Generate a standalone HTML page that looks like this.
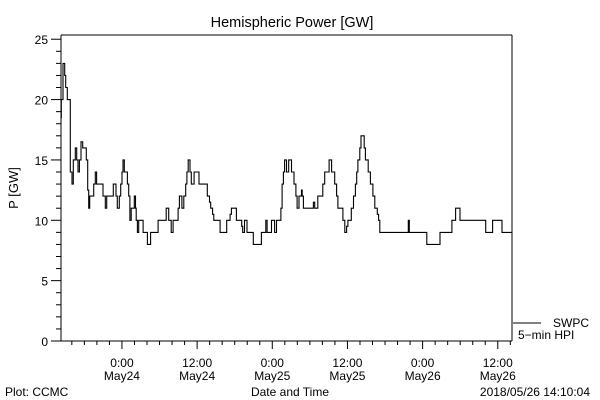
<!DOCTYPE html>
<html><head><meta charset="utf-8"><style>
body{margin:0;background:#fff}
svg{display:block;font-family:"Liberation Sans",sans-serif}
</style></head><body>
<svg id="chart" width="600" height="400" viewBox="0 0 600 400">
<rect width="600" height="400" fill="#fff"/>
<text x="292" y="27" font-size="14.5" text-anchor="middle">Hemispheric Power [GW]</text>
<text transform="translate(18,188) rotate(-90)" font-size="13" text-anchor="middle">P [GW]</text>
<g id="axes"></g>
<path id="series" fill="none" stroke="#000" stroke-width="1.1"/>
<line x1="513" y1="323" x2="541" y2="323" stroke="#000"/>
<text x="553" y="327" font-size="12">SWPC</text>
<text x="518" y="339" font-size="12">5−min HPI</text>
<text x="5" y="396" font-size="12">Plot: CCMC</text>
<text x="290" y="396" font-size="12" text-anchor="middle">Date and Time</text>
<text x="590" y="396" font-size="12" text-anchor="end">2018/05/26 14:10:04</text>
</svg>
<script>
// hours since start of window (~14:16 May23), step values in GW
const times=[0,0.05,0.32,0.59,0.75,1.01,1.49,1.76,1.97,2.29,2.5,2.71,2.93,3.19,3.46,4.04,4.26,4.42,4.58,5.22,5.48,5.69,6.7,7.08,7.29,8.35,8.78,8.99,9.31,9.53,9.74,9.9,10.1,10.6,10.8,11.0,11.2,11.7,11.9,12.0,12.2,12.4,13.1,13.8,14.3,15.5,16.8,17.2,17.6,17.9,18.7,18.9,19.3,19.6,19.9,20.1,20.3,20.6,20.8,21.25,22.03,23.36,23.7,23.9,24.2,24.4,25.4,26.45,27.0,27.2,28.0,28.85,29.0,29.3,29.7,30.7,32.0,32.7,32.9,33.6,34.1,34.4,35.1,35.3,35.5,35.7,36.0,36.35,36.8,37.2,37.5,37.7,38.0,38.4,38.5,38.7,40.3,40.5,41.0,41.8,42.1,42.8,43.2,43.7,44.0,44.2,45.0,45.3,45.6,45.8,46.35,46.7,47.0,47.2,47.4,47.7,47.9,48.4,48.6,49.05,49.4,49.8,50.1,50.5,50.7,50.9,55.45,55.6,58.4,60.5,62.4,63.0,63.7,67.8,68.9,70.4];
const values=[18.5,20,23,22,21,20,14,13,15,16,15,14,15,16.5,16,15,12.5,11,12,13,14,13,12,11,12,13,12,11,12,13,14,15,14,13,12,10,11,12,11,10,9,10,9,8,9,10,11,10,9,10,11,12,11,12,13,14,15,14,13,14,13,12,11.5,11,10.5,10,9,10,10.5,11,10,9.5,9,10,9,8,9,10,9,10,9,10,11,13,14,15,14,15,14,13,12,11,12,12.5,12,11,11.5,11,12,13,14,15,14,13,12,11,10,9,9.5,10,11,12,13,14,15,16,17,16,15,14,13,12,11,10.5,10,9,10,9,8,9,10,11,10,9,10,9];
const yTicks=[0,5,10,15,20,25];
const xTickHours=[9.73,21.73,33.73,45.73,57.73,69.73];
const xTickTime=["0:00","12:00","0:00","12:00","0:00","12:00"];
const xTickDate=["May24","May24","May25","May25","May26","May26"];
const X0=61,X1=512,Y0=341,Y1=35,HMAX=72,VMAX=25.35;
const xs=h=>X0+(h/HMAX)*(X1-X0);
const ys=v=>Y0-(v/VMAX)*(Y0-Y1);
const NS="http://www.w3.org/2000/svg";
const axes=document.getElementById('axes');
function ln(x1,y1,x2,y2,name){const l=document.createElementNS(NS,'line');
l.setAttribute('x1',x1);l.setAttribute('y1',y1);l.setAttribute('x2',x2);l.setAttribute('y2',y2);
l.setAttribute('stroke','#000');l.setAttribute('stroke-width','1');


axes.appendChild(l);return l;}
function tx(x,y,s,anchor,name){const t=document.createElementNS(NS,'text');
t.setAttribute('x',x);t.setAttribute('y',y);t.setAttribute('font-size','12');t.setAttribute('text-anchor',anchor);t.textContent=s;


axes.appendChild(t);}
ln(X0,Y1,X1,Y1,'plot-frame-top');ln(X0,Y1,X0,Y0,'y-axis-line');ln(X0,Y0,X1,Y0,'x-axis-line');ln(X1,Y1,X1,Y0,'plot-frame-right');
for(let v=0;v<=25;v++){const y=ys(v);const major=v%5===0;ln(major?X0-10:X0-5,y,X0,y,major?'y-major-tick':'y-minor-tick');}
yTicks.forEach(v=>tx(X0-13,ys(v)+5,String(v),'end','y-tick-label'));
for(let h=xTickHours[0]%2;h<=HMAX;h+=2){const x=xs(h);const major=xTickHours.some(m=>Math.abs(m-h)<0.01);ln(x,Y0,x,Y0+(major?8:4),major?'x-major-tick':'x-minor-tick');}
xTickHours.forEach((h,i)=>{tx(xs(h),367,xTickTime[i],'middle','x-tick-time');tx(xs(h),380,xTickDate[i],'middle','x-tick-date');});
let d='M'+xs(times[0]).toFixed(1)+','+ys(values[0]).toFixed(1);
for(let i=1;i<times.length;i++){d+='H'+xs(times[i]).toFixed(1)+'V'+ys(values[i]).toFixed(1);}
d+='H'+xs(HMAX).toFixed(1);
document.getElementById('series').setAttribute('d',d);
</script>
</body></html>
